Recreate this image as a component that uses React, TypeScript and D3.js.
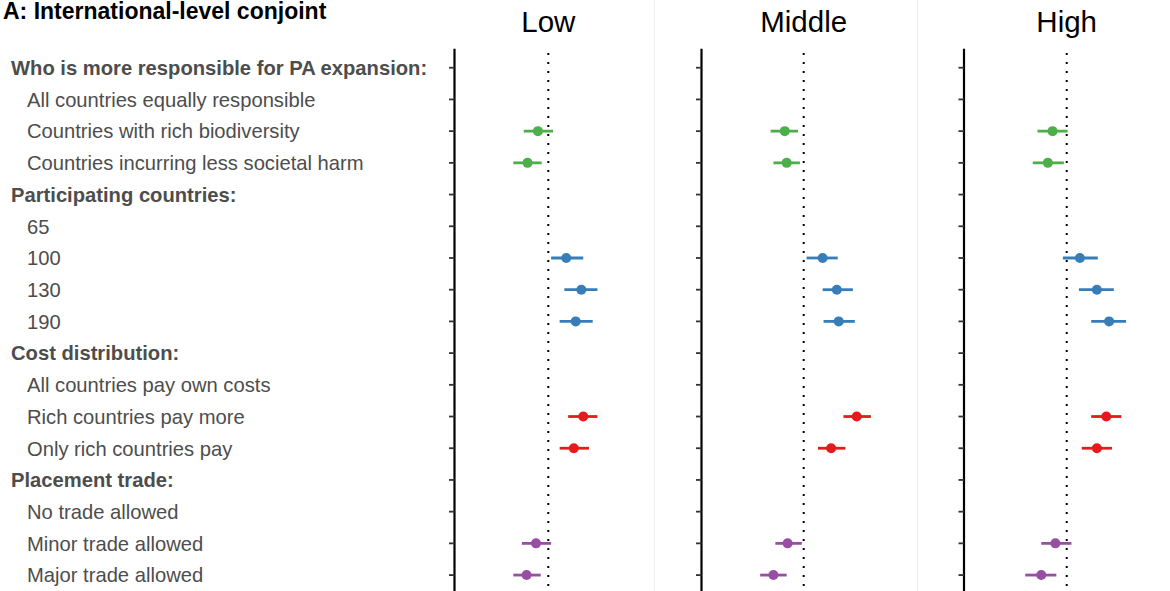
import React from "react";
import * as d3 from "d3";

// ---------- data ----------
const rowLabels = [
  "Who is more responsible for PA expansion:",
  "All countries equally responsible",
  "Countries with rich biodiversity",
  "Countries incurring less societal harm",
  "Participating countries:",
  "65",
  "100",
  "130",
  "190",
  "Cost distribution:",
  "All countries pay own costs",
  "Rich countries pay more",
  "Only rich countries pay",
  "Placement trade:",
  "No trade allowed",
  "Minor trade allowed",
  "Major trade allowed",
];
const headerLabels = [
  "Who is more responsible for PA expansion:",
  "Participating countries:",
  "Cost distribution:",
  "Placement trade:",
];

const estimatedLevels = [
  "Countries with rich biodiversity",
  "Countries incurring less societal harm",
  "100",
  "130",
  "190",
  "Rich countries pay more",
  "Only rich countries pay",
  "Minor trade allowed",
  "Major trade allowed",
];
const levelGroups = ["resp", "resp", "part", "part", "part", "cost", "cost", "trade", "trade"];
const groupColors: Record<string, string> = {
  resp: "#4daf4a",
  part: "#377eb8",
  cost: "#e41a1c",
  trade: "#984ea3",
};

const panelNames = ["Low", "Middle", "High"];

const lowEst = [-0.011, -0.022, 0.019, 0.035, 0.029, 0.037, 0.027, -0.013, -0.023];
const lowLo = [-0.026, -0.037, 0.003, 0.017, 0.012, 0.021, 0.012, -0.028, -0.037];
const lowHi = [0.005, -0.007, 0.037, 0.052, 0.047, 0.052, 0.043, 0.003, -0.008];

const midEst = [-0.020, -0.018, 0.020, 0.035, 0.037, 0.056, 0.029, -0.017, -0.032];
const midLo = [-0.035, -0.032, 0.003, 0.020, 0.021, 0.042, 0.015, -0.030, -0.046];
const midHi = [-0.006, -0.004, 0.036, 0.052, 0.054, 0.071, 0.044, -0.002, -0.018];

const highEst = [-0.015, -0.020, 0.014, 0.032, 0.045, 0.042, 0.032, -0.012, -0.027];
const highLo = [-0.031, -0.036, -0.004, 0.013, 0.026, 0.026, 0.016, -0.027, -0.044];
const highHi = [0.001, -0.003, 0.033, 0.050, 0.063, 0.058, 0.048, 0.005, -0.011];

const panelData = [
  { est: lowEst, lo: lowLo, hi: lowHi },
  { est: midEst, lo: midLo, hi: midHi },
  { est: highEst, lo: highLo, hi: highHi },
];

// ---------- layout ----------
const W = 1170;
const H = 591;
const panelAxisX = [454.5, 701.5, 964];
const panelZeroX = [548.3, 803.7, 1066.7];
const panelHalfDomain = [0.0993, 0.108, 0.109];
const separatorsX = [654.3, 917.7];

const yScale = d3
  .scalePoint<string>()
  .domain(rowLabels)
  .range([48.7, 594.1])
  .padding(0.6);

const FONT = "'Liberation Sans', Arial, Helvetica, sans-serif";

export default function App() {
  return (
    <svg
      width={W}
      height={H}
      style={{ position: "absolute", left: 0, top: 0, background: "#fff" }}
      fontFamily={FONT}
    >
      <rect x={0} y={0} width={W} height={H} fill="#fff" />
      {separatorsX.map((x, i) => (
        <line key={i} x1={x} x2={x} y1={0} y2={H} stroke="#ededed" strokeWidth={1} />
      ))}
      <text x={3} y={18.5} fontSize={23} fontWeight="bold" fill="#000">
        A: International-level conjoint
      </text>

      {/* row labels */}
      {rowLabels.map((lab) => {
        const isHeader = headerLabels.includes(lab);
        return (
          <text
            key={lab}
            x={isHeader ? 11 : 27}
            y={(yScale(lab) as number) + 7.3}
            fontSize={20.2}
            fontWeight={isHeader ? "bold" : "normal"}
            fill="#4d4d4d"
          >
            {lab}
          </text>
        );
      })}

      {panelNames.map((name, p) => {
        const ax = panelAxisX[p];
        const zx = panelZeroX[p];
        const d = panelHalfDomain[p];
        const x = d3.scaleLinear().domain([-d, d]).range([ax, ax + 2 * (zx - ax)]);
        const data = panelData[p];
        const [y0, y1] = yScale.range();
        return (
          <g key={name}>
            <text x={x(0)} y={32} fontSize={29.5} textAnchor="middle" fill="#000">
              {name}
            </text>
            {/* dotted zero line */}
            <line
              x1={x(0)}
              x2={x(0)}
              y1={53}
              y2={y1}
              stroke="#000"
              strokeWidth={2}
              strokeDasharray="2 7"
            />
            {/* axis */}
            <line x1={ax} x2={ax} y1={y0} y2={y1} stroke="#000" strokeWidth={2.2} />
            {rowLabels.map((lab) => (
              <line
                key={lab}
                x1={ax - 5.5}
                x2={ax}
                y1={yScale(lab) as number}
                y2={yScale(lab) as number}
                stroke="#333"
                strokeWidth={1.8}
              />
            ))}
            {/* estimates */}
            {estimatedLevels.map((lev, i) => {
              const yy = yScale(lev) as number;
              const col = groupColors[levelGroups[i]];
              return (
                <g key={lev}>
                  <line
                    x1={x(data.lo[i])}
                    x2={x(data.hi[i])}
                    y1={yy}
                    y2={yy}
                    stroke={col}
                    strokeWidth={2.8}
                  />
                  <circle cx={x(data.est[i])} cy={yy} r={5} fill={col} />
                </g>
              );
            })}
          </g>
        );
      })}
    </svg>
  );
}
